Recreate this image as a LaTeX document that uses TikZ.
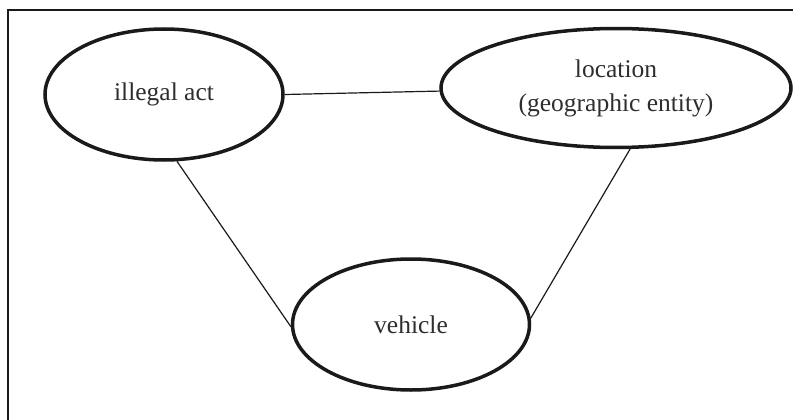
\documentclass[tikz,border=0pt]{standalone}
\usepackage{fontspec}
\setmainfont{Liberation Serif}
\usetikzlibrary{shapes.geometric}
\definecolor{ink}{HTML}{1A1A1A}
\definecolor{txt}{HTML}{2E2E2E}
\tikzset{
  concept/.style={ellipse, draw=ink, line width=3.5pt, inner sep=0pt,
    text=txt, font=\fontsize{25.5}{34}\selectfont, align=center},
  link/.style={draw=ink, line width=1.2pt},
  frame/.style={draw=ink, line width=2pt}
}
\begin{document}
\begin{tikzpicture}[x=1pt,y=-1pt]
  \useasboundingbox (0,0) rectangle (793,420);
  \clip (0,0) rectangle (793,420);
  % outer frame (only its top and left sides fall inside the page)
  \draw[frame] (8,440) -- (8,10) -- (820,10);
  % concepts
  \node[concept, minimum width=238pt, minimum height=131pt] (ill) at (164,94.5) {illegal act};
  \node[concept, minimum width=350pt, minimum height=119pt] (loc) at (616,88) {location\\(geographic entity)};
  \node[concept, minimum width=237pt, minimum height=131pt] (veh) at (411,324.5) {vehicle};
  % relations
  \draw[link] (ill.east) -- (loc.181);
  \draw[link] (ill.-79) -- (veh.181);
  \draw[link] (loc.-77) -- (veh.3);
\end{tikzpicture}
\end{document}
